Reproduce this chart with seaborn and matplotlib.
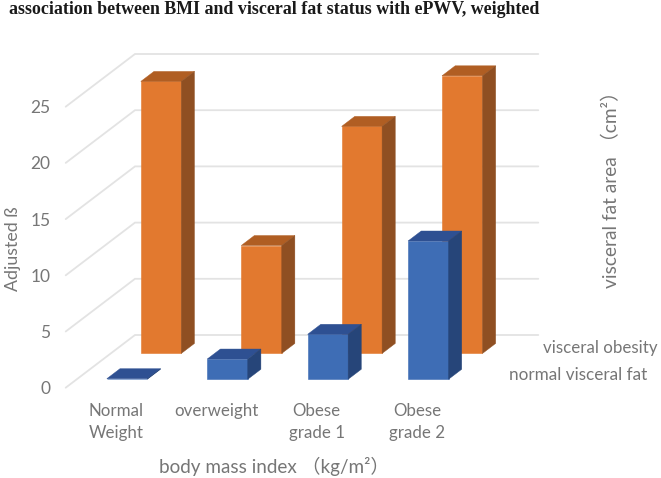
import numpy as np
import matplotlib
matplotlib.use("Agg")
import matplotlib.pyplot as plt
from matplotlib.patches import Polygon
import seaborn as sns

title = "association between BMI and visceral fat status with ePWV, weighted"
categories = ["Normal\nWeight", "overweight", "Obese\ngrade 1", "Obese\ngrade 2"]
normal_visceral_fat = [0.05, 1.8, 4.0, 12.3]
visceral_obesity = [24.2, 9.6, 20.2, 24.7]
y_ticks = [0, 5, 10, 15, 20, 25]

W, H = 661, 478
sns.set_theme(style="white")
plt.rcParams["font.family"] = ["Lato", "Noto Sans CJK SC", "DejaVu Sans"]

GREY = "#767676"
GRID = "#e3e3e3"
LEFT, RIGHT, BOTTOM, TOP = 65.7, 538.3, 387.7, 106.7
CAT0, CAT_STEP = 116.0, 100.4
DX = 69.3 / CAT_STEP
DY = 52.7 * 25 / (BOTTOM - TOP)
BAR_W = 40.5 / CAT_STEP
BAR_D = 0.19

fig = plt.figure(figsize=(W / 100, H / 100), dpi=100)
ax = fig.add_axes([LEFT / W, 1 - BOTTOM / H, (RIGHT - LEFT) / W, (BOTTOM - TOP) / H])
xlim = ((LEFT - CAT0) / CAT_STEP, (RIGHT - CAT0) / CAT_STEP)
pos = np.arange(len(categories), dtype=float)

# Floor / wall gridlines, slanted on the side wall then flat along the back wall
for v in y_ticks:
    ax.plot([xlim[0], xlim[0] + DX, xlim[1]], [v, v + DY, v + DY],
            color=GRID, lw=1.3, zorder=0.5, clip_on=False, solid_joinstyle="miter")


def depth_bars(values, depth, front, top, side):
    n0 = len(ax.patches)
    sns.barplot(x=pos + depth * DX, y=values, native_scale=True, width=BAR_W,
                color=front, saturation=1, ax=ax, clip_on=False,
                edgecolor=front, linewidth=0.4, errorbar=None)
    base = depth * DY
    for rect in list(ax.patches[n0:]):
        rect.set_y(base)
        x0, x1 = rect.get_x(), rect.get_x() + rect.get_width()
        y1 = base + rect.get_height()
        ox, oy = BAR_D * DX, BAR_D * DY
        ax.add_patch(Polygon([(x0, y1), (x1, y1), (x1 + ox, y1 + oy), (x0 + ox, y1 + oy)],
                             closed=True, fc=top, ec=top, lw=0.3, clip_on=False))
        ax.add_patch(Polygon([(x1, base), (x1 + ox, base + oy), (x1 + ox, y1 + oy), (x1, y1)],
                             closed=True, fc=side, ec=side, lw=0.3, clip_on=False))


depth_bars(visceral_obesity, 0.65, "#e2792f", "#b05e23", "#8f4f22")
depth_bars(normal_visceral_fat, 0.16, "#3e6db5", "#2e5092", "#264579")

ax.set_xlim(*xlim)
ax.set_ylim(0, 25)
ax.set_xticks(pos)
ax.set_xticklabels(categories, fontsize=12.2, color=GREY, linespacing=1.45)
ax.set_yticks(y_ticks)
ax.set_yticklabels([str(v) for v in y_ticks], fontsize=12.5, color=GREY)
ax.tick_params(axis="x", length=0, pad=11)
ax.tick_params(axis="y", length=0, pad=11)
ax.set_xlabel("")
ax.set_ylabel("")
ax.patch.set_visible(False)
sns.despine(ax=ax, left=True, bottom=True)


def px_text(x, y, s, **kw):
    fig.text(x / W, 1 - y / H, s, **kw)


px_text(9, 9, title, family="Liberation Serif", fontweight="bold", fontsize=12.9,
        color="#1a1a1a", ha="left", va="center")
px_text(13, 249, "Adjusted ß", rotation=90, fontsize=12.8, color=GREY, ha="center", va="center")
px_text(611, 185, "visceral fat area （cm²）", rotation=90, fontsize=13.8, color=GREY,
        ha="center", va="center")
px_text(274, 466, "body mass index （kg/m²）", fontsize=13.6, color=GREY, ha="center", va="center")
px_text(543, 348, "visceral obesity", fontsize=12.2, color=GREY, ha="left", va="center")
px_text(509, 375, "normal visceral fat", fontsize=12.3, color=GREY, ha="left", va="center")

fig.savefig("out.png", dpi=100, facecolor="white")
